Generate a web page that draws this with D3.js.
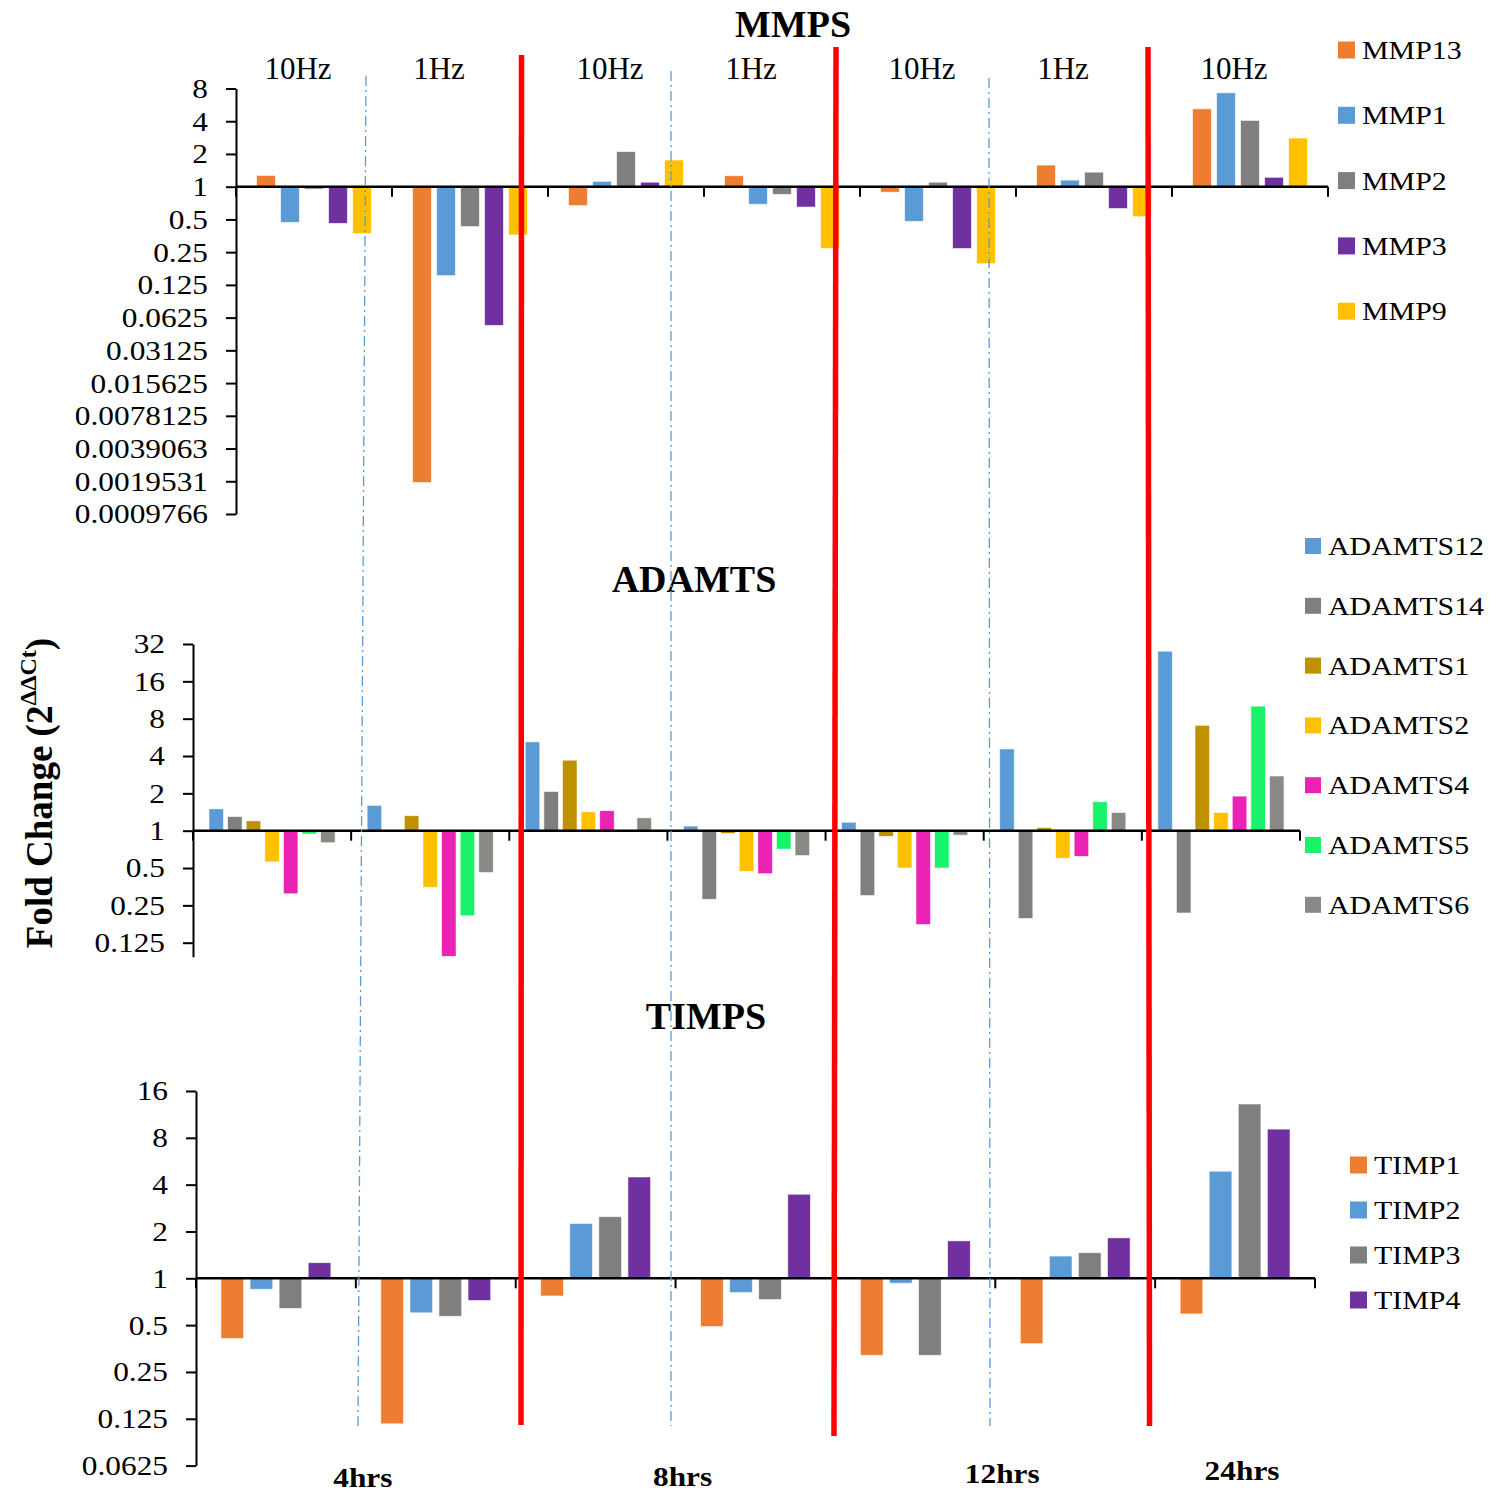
<!DOCTYPE html>
<html>
<head>
<meta charset="utf-8">
<script src="https://cdn.jsdelivr.net/npm/d3@7"></script>
<style>
  body { margin: 0; background: #fff; }
  svg { display: block; }
  text { font-family: "Liberation Serif", "Times New Roman", serif; fill: #000; }
</style>
</head>
<body>
<svg id="chart" width="1497" height="1493"></svg>
<script>
// ---------- data ----------
const timepoints = ["4hrs", "8hrs", "12hrs", "24hrs"];
const conditions = ["4hrs 10Hz", "4hrs 1Hz", "8hrs 10Hz", "8hrs 1Hz", "12hrs 10Hz", "12hrs 1Hz", "24hrs 10Hz"];
const frequencyLabels = ["10Hz", "1Hz", "10Hz", "1Hz", "10Hz", "1Hz", "10Hz"];

// MMPs: fold change per condition (same order as `conditions`)
const mmpGenes = ["MMP13", "MMP1", "MMP2", "MMP3", "MMP9"];
const mmpColors = ["#ED7D31", "#5B9BD5", "#7F7F7F", "#7030A0", "#FFC000"];
const MMP13 = [1.27, 0.0019, 0.67, 1.26, 0.89, 1.58, 5.2];
const MMP1  = [0.47, 0.152, 1.12, 0.69, 0.48, 1.15, 7.3];
const MMP2  = [0.95, 0.43, 2.1, 0.85, 1.1, 1.36, 4.07];
const MMP3  = [0.46, 0.053, 1.1, 0.65, 0.27, 0.63, 1.22];
const MMP9  = [0.37, 0.36, 1.76, 0.27, 0.196, 0.53, 2.8];
const mmpTickLabels = ["0.0009766", "0.0019531", "0.0039063", "0.0078125", "0.015625", "0.03125",
                       "0.0625", "0.125", "0.25", "0.5", "1", "2", "4", "8"];

// ADAMTS
const adamtsGenes = ["ADAMTS12", "ADAMTS14", "ADAMTS1", "ADAMTS2", "ADAMTS4", "ADAMTS5", "ADAMTS6"];
const adamtsColors = ["#5B9BD5", "#7F7F7F", "#BF9000", "#FFC000", "#EA23B5", "#1BF26B", "#898A85"];
const ADAMTS12 = [1.5, 1.6, 5.2, 1.09, 1.17, 4.56, 28];
const ADAMTS14 = [1.3, 1.0, 2.07, 0.28, 0.3, 0.196, 0.217];
const ADAMTS1  = [1.2, 1.32, 3.7, 0.95, 0.9, 1.06, 7.07];
const ADAMTS2  = [0.56, 0.35, 1.42, 0.47, 0.5, 0.6, 1.4];
const ADAMTS4  = [0.31, 0.097, 1.45, 0.45, 0.175, 0.62, 1.9];
const ADAMTS5  = [0.94, 0.206, 1.0, 0.71, 0.5, 1.71, 10.1];
const ADAMTS6  = [0.8, 0.46, 1.27, 0.63, 0.92, 1.4, 2.76];
const adamtsTickLabels = ["0.125", "0.25", "0.5", "1", "2", "4", "8", "16", "32"];

// TIMPs
const timpGenes = ["TIMP1", "TIMP2", "TIMP3", "TIMP4"];
const timpColors = ["#ED7D31", "#5B9BD5", "#7F7F7F", "#7030A0"];
const TIMP1 = [0.41, 0.116, 0.77, 0.49, 0.32, 0.38, 0.59];
const TIMP2 = [0.85, 0.6, 2.25, 0.81, 0.93, 1.39, 4.88];
const TIMP3 = [0.64, 0.57, 2.49, 0.73, 0.32, 1.46, 13.2];
const TIMP4 = [1.26, 0.72, 4.48, 3.47, 1.74, 1.82, 9.1];
const timpTickLabels = ["0.0625", "0.125", "0.25", "0.5", "1", "2", "4", "8", "16"];

// ---------- drawing ----------
const svg = d3.select("#chart");
svg.append("rect").attr("width", 1497).attr("height", 1493).attr("fill", "#fff");

const panels = [
  { title: "MMPS", titleX: 793, titleY: 37,
    genes: mmpGenes, colors: mmpColors, series: [MMP13, MMP1, MMP2, MMP3, MMP9],
    ticks: mmpTickLabels, domain: [Math.pow(2, -10), 8],
    xRange: [236, 1328], yRange: [514, 88.5],
    legendX: 1338, legendY0: 50, legendStep: 65.3, swatch: 17 },
  { title: "ADAMTS", titleX: 694, titleY: 592,
    genes: adamtsGenes, colors: adamtsColors,
    series: [ADAMTS12, ADAMTS14, ADAMTS1, ADAMTS2, ADAMTS4, ADAMTS5, ADAMTS6],
    ticks: adamtsTickLabels, domain: [Math.pow(2, -3.375), 32],
    xRange: [193, 1300], yRange: [956.7, 644],
    legendX: 1305, legendY0: 546, legendStep: 59.8, swatch: 16 },
  { title: "TIMPS", titleX: 706, titleY: 1029,
    genes: timpGenes, colors: timpColors, series: [TIMP1, TIMP2, TIMP3, TIMP4],
    ticks: timpTickLabels, domain: [1 / 16, 16],
    xRange: [196, 1315], yRange: [1465.6, 1091],
    legendX: 1350, legendY0: 1165, legendStep: 45, swatch: 17 }
];

const TICK_SX = 1.12;   // horizontal stretch of numeric tick labels
const LEG_SX = 1.15;    // horizontal stretch of legend labels

panels.forEach(p => {
  const g = svg.append("g");
  const y = d3.scaleLog().base(2).domain(p.domain).range(p.yRange);
  const x0 = d3.scaleBand().domain(conditions).range(p.xRange).paddingInner(0).paddingOuter(0);
  const x1 = d3.scaleBand().domain(p.genes).range([0, x0.bandwidth()])
    .paddingInner(0.22).paddingOuter(0.86);
  const base = y(1);

  // bars
  p.genes.forEach((gene, gi) => {
    g.append("g").selectAll("rect")
      .data(p.series[gi].map((v, ci) => ({ v, c: conditions[ci] })))
      .join("rect")
      .attr("x", d => x0(d.c) + x1(gene))
      .attr("width", x1.bandwidth())
      .attr("y", d => Math.min(y(d.v), base))
      .attr("height", d => Math.abs(y(d.v) - base))
      .attr("fill", p.colors[gi])
      .attr("stroke", "rgba(255,255,255,0.7)")
      .attr("stroke-width", 0.8);
  });

  // y axis
  const tickVals = p.ticks.map(Number);
  const yAxis = d3.axisLeft(y).tickValues(tickVals)
    .tickFormat((d, i) => p.ticks[i]).tickSize(10).tickPadding(18).tickSizeOuter(0);
  const ya = g.append("g").attr("transform", `translate(${p.xRange[0]},0)`).call(yAxis);
  ya.select(".domain").attr("stroke", "#000").attr("stroke-width", 2);
  ya.selectAll(".tick line").attr("stroke", "#000").attr("stroke-width", 2);
  ya.selectAll(".tick text")
    .attr("font-family", '"Liberation Serif", "Times New Roman", serif')
    .attr("font-size", 28)
    .attr("x", -28 / TICK_SX)
    .attr("transform", `scale(${TICK_SX},1)`);

  // category axis along fold change = 1
  const xa = g.append("g");
  xa.append("line").attr("x1", p.xRange[0]).attr("x2", p.xRange[1])
    .attr("y1", base).attr("y2", base).attr("stroke", "#000").attr("stroke-width", 2.5);
  const bounds = conditions.map(c => x0(c)).concat([p.xRange[1]]);
  xa.selectAll("line.tk").data(bounds).join("line").attr("class", "tk")
    .attr("x1", d => d).attr("x2", d => d)
    .attr("y1", base).attr("y2", base + 10)
    .attr("stroke", "#000").attr("stroke-width", 2);

  // panel title
  svg.append("text").attr("x", p.titleX).attr("y", p.titleY)
    .attr("text-anchor", "middle").attr("font-weight", "bold").attr("font-size", 38)
    .text(p.title);

  // legend
  const lg = svg.append("g");
  p.genes.forEach((gene, gi) => {
    const cy = p.legendY0 + gi * p.legendStep;
    lg.append("rect").attr("x", p.legendX).attr("y", cy - p.swatch / 2)
      .attr("width", p.swatch).attr("height", p.swatch).attr("fill", p.colors[gi]);
    lg.append("text")
      .attr("x", (p.legendX + p.swatch + 7) / LEG_SX).attr("y", cy + 9)
      .attr("transform", `scale(${LEG_SX},1)`)
      .attr("font-size", 26).text(gene);
  });

  p.x0 = x0;
});

// frequency labels above the MMP panel
const topX = panels[0].x0;
svg.append("g").selectAll("text").data(frequencyLabels).join("text")
  .attr("x", (d, i) => topX(conditions[i]) + topX.bandwidth() / 2 + (d === "1Hz" ? -31 : -16))
  .attr("y", 79)
  .attr("text-anchor", "middle").attr("font-size", 31)
  .text(d => d);

// time point labels under the TIMP panel
const botX = panels[2].x0;
const TIME_SX = 1.12;
svg.append("g").selectAll("text").data(timepoints).join("text")
  .attr("transform", (t, i) => {
    const cs = conditions.filter(c => c.startsWith(t + " "));
    const cx = cs.length > 1 ? botX(cs[1]) : botX(cs[0]) + botX.bandwidth() / 2;
    const yy = [1487, 1486, 1483, 1480][i];
    return `translate(${cx + 7},${yy}) scale(${TIME_SX},1)`;
  })
  .attr("text-anchor", "middle").attr("font-weight", "bold").attr("font-size", 28)
  .text(d => d);

// shared y-axis title
const yt = svg.append("text")
  .attr("transform", "translate(52,793) rotate(-90)")
  .attr("text-anchor", "middle").attr("font-weight", "bold").attr("font-size", 37);
yt.append("tspan").text("Fold Change (2");
yt.append("tspan").attr("dy", -16).attr("font-size", 24).text("ΔΔCt");
yt.append("tspan").attr("dy", 16).text(")");

// frequency dividers (dash-dot) and time-point separators (red)
const dividers = [
  { x1: 366, y1: 76, x2: 358, y2: 1426 },
  { x1: 671, y1: 71, x2: 671, y2: 1426 },
  { x1: 989, y1: 78, x2: 990, y2: 1426 }
];
svg.append("g").selectAll("line").data(dividers).join("line")
  .attr("x1", d => d.x1).attr("y1", d => d.y1).attr("x2", d => d.x2).attr("y2", d => d.y2)
  .attr("stroke", "#5B9BD5").attr("stroke-width", 1.3).attr("stroke-dasharray", "10,4,2,4");

const separators = [
  { x1: 521.5, y1: 55, x2: 521, y2: 1425 },
  { x1: 836, y1: 47, x2: 834, y2: 1436 },
  { x1: 1148, y1: 47, x2: 1149.5, y2: 1426 }
];
svg.append("g").selectAll("line").data(separators).join("line")
  .attr("x1", d => d.x1).attr("y1", d => d.y1).attr("x2", d => d.x2).attr("y2", d => d.y2)
  .attr("stroke", "#FF0000").attr("stroke-width", 5.5);
</script>
</body>
</html>
